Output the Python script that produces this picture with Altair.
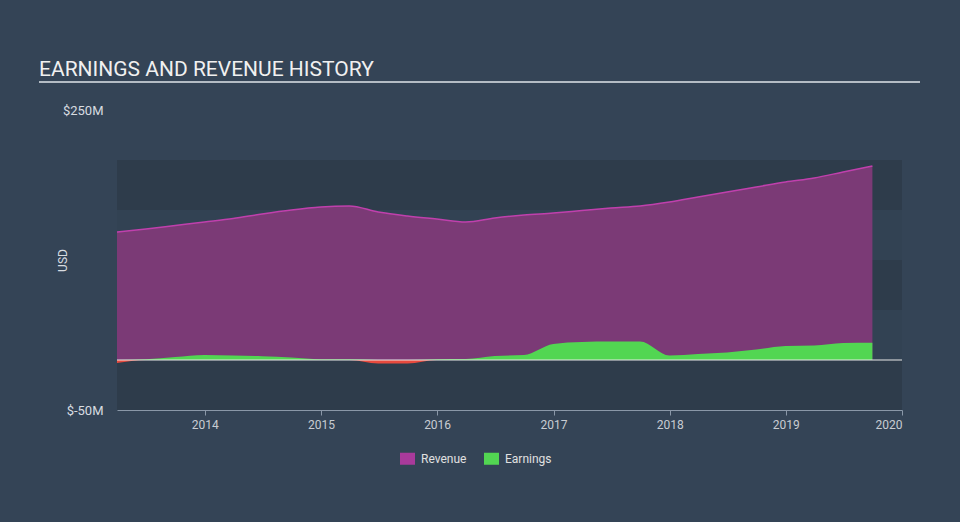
import altair as alt
import pandas as pd

dates = ["2013-03-31", "2013-06-30", "2013-09-30", "2013-12-31",
         "2014-03-31", "2014-06-30", "2014-09-30", "2014-12-31",
         "2015-03-31", "2015-06-30", "2015-09-30", "2015-12-31",
         "2016-03-31", "2016-06-30", "2016-09-30", "2016-12-31",
         "2017-03-31", "2017-06-30", "2017-09-30", "2017-12-31",
         "2018-03-31", "2018-06-30", "2018-09-30", "2018-12-31",
         "2019-03-31", "2019-06-30", "2019-09-30"]
revenue = [128, 131, 134.5, 138, 141.5, 146, 150, 153, 154, 148, 144, 141, 138,
           142, 145, 147, 149.5, 152, 154, 158, 163, 168, 173, 178, 182, 188, 194]
earnings = [-3, 0.8, 3, 5, 4.5, 3.8, 2.5, 0.7, 0.7, -3.5, -3.5, 0.8, 1, 4, 5,
            16, 18, 18.5, 18.5, 4.5, 6, 7.5, 10.5, 14, 14.5, 17, 17.3]
series = ["Revenue", "Earnings"]
series_colors = ["#a93a9b", "#52d652"]
dark_lo = [-50, 50, 150]
dark_hi = [0, 100, 200]
light_lo = [0, 100]
light_hi = [50, 150]
y_ticks = [-50, 250]

df = pd.DataFrame({"date": dates, "revenue": revenue, "earnings": earnings})
df["pos"] = df["earnings"].clip(lower=0)
df["neg"] = df["earnings"].clip(upper=0)

x_scale = alt.Scale(domain=[alt.DateTime(year=2013, month=3, date=31),
                            alt.DateTime(year=2020, month=1, date=1)])
y_scale = alt.Scale(domain=[-50, 250], nice=False)

X = alt.X("date:T", scale=x_scale,
          axis=alt.Axis(format="%Y", tickCount={"interval": "year", "step": 1},
                        grid=False, domainColor="#8a98a8", tickColor="#8a98a8",
                        tickSize=5, labelColor="#c8ccd2", labelFontSize=12,
                        labelPadding=4, title=None, labelFont="Roboto"))
Y_axis = alt.Axis(values=y_ticks, labelExpr="'$' + datum.value + 'M'", grid=False,
                  domain=False, ticks=False, labelColor="#d8dce0", labelFontSize=13,
                  labelPadding=14, title="USD", titleColor="#d8dce0",
                  titleFontSize=12, titleFontWeight="normal", titleX=-48, titleY=150,
                  labelFont="Roboto", titleFont="Roboto")

dark = alt.Chart(pd.DataFrame({"lo": dark_lo, "hi": dark_hi})).mark_rect(
    color="#2e3c4b", opacity=1).encode(
    y=alt.Y("lo:Q", scale=y_scale, axis=Y_axis), y2="hi:Q")
light = alt.Chart(pd.DataFrame({"lo": light_lo, "hi": light_hi})).mark_rect(
    color="#324253", opacity=1).encode(
    y=alt.Y("lo:Q", scale=y_scale), y2="hi:Q")

rev = alt.Chart(df).mark_area(
    color="#7b3a76", opacity=1, interpolate="monotone",
    line={"color": "#c040ad", "strokeWidth": 1.5},
).encode(x=X, y=alt.Y("revenue:Q", scale=y_scale))

earn_pos = alt.Chart(df).mark_area(color="#52d652", opacity=1, interpolate="monotone").encode(
    x="date:T", y=alt.Y("pos:Q", scale=y_scale))
earn_neg = alt.Chart(df).mark_area(color="#e84a3e", opacity=1, interpolate="monotone").encode(
    x="date:T", y=alt.Y("neg:Q", scale=y_scale))

zero = alt.Chart(pd.DataFrame({"z": [0]})).mark_rule(color="#e8e8e8", strokeWidth=1.2).encode(
    y=alt.Y("z:Q", scale=y_scale))

title = alt.Chart(pd.DataFrame({"t": ["EARNINGS AND REVENUE HISTORY"]})).mark_text(
    align="left", baseline="alphabetic", fontSize=21, font="Roboto", color="#f0f0f0"
).encode(x=alt.value(-78), y=alt.value(-34), text="t:N")

underline = alt.Chart(pd.DataFrame({"t": [0]})).mark_rule(color="#b4bcc4", strokeWidth=2).encode(
    x=alt.value(-78), x2=alt.value(803), y=alt.value(-28))

legend_layer = alt.Chart(pd.DataFrame({"series": series})).mark_square(opacity=1).encode(
    color=alt.Color("series:N", scale=alt.Scale(domain=series, range=series_colors),
                    legend=alt.Legend(orient="none", legendX=283, legendY=341,
                                      direction="horizontal", title=None,
                                      symbolType="M-1,-0.8H1V0.8H-1Z", symbolSize=225,
                                      symbolStrokeWidth=0, symbolOpacity=1,
                                      labelColor="#e0e0e0", labelFontSize=12,
                                      labelFont="Roboto", labelOffset=6,
                                      columnPadding=17))
).transform_filter("false")

chart = alt.layer(dark, light, rev, earn_pos, earn_neg, zero, title, underline, legend_layer).properties(
    width=785, height=300,
    autosize=alt.AutoSizeParams(type="none"),
    padding={"left": 117, "top": 110, "right": 58, "bottom": 112},
).configure(background="#344456").configure_view(stroke=None)

chart.save("out.html", embed_options={"renderer": "svg", "actions": False})
